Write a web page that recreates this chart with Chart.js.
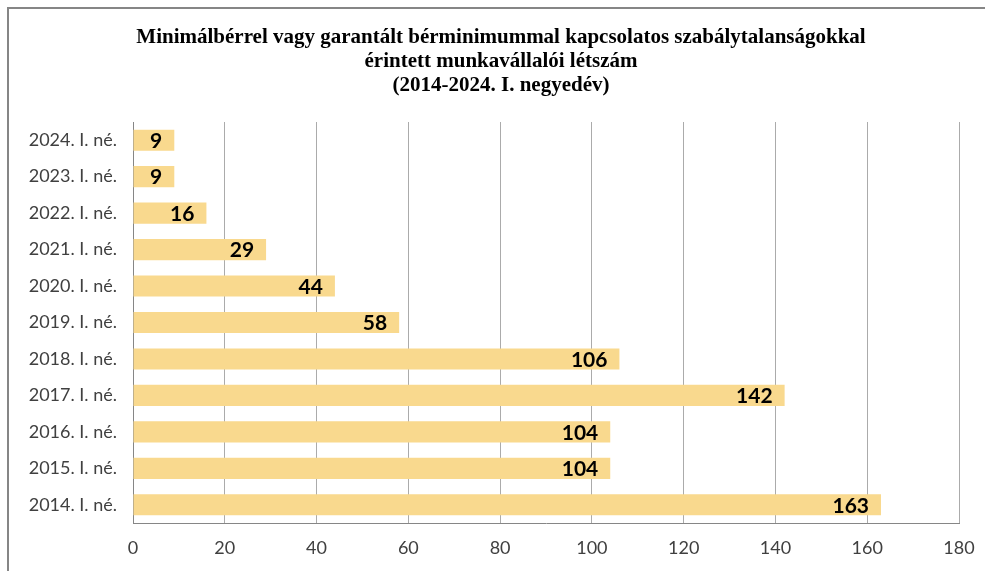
<!DOCTYPE html>
<html>
<head>
<meta charset="utf-8">
<script src="https://cdn.jsdelivr.net/npm/chart.js@4.4.0/dist/chart.umd.min.js"></script>
<style>
  html, body { margin: 0; padding: 0; background: #fff; }
  #wrap { position: relative; width: 985px; height: 571px; }
  #frame { position: absolute; left: 7px; top: 7px; right: 0; bottom: 0;
           border-top: 2px solid #868686; border-left: 2px solid #868686; }
  canvas { position: absolute; left: 0; top: 0; }
</style>
</head>
<body>
<div id="wrap">
  <div id="frame"></div>
  <canvas id="chart" width="985" height="571"></canvas>
</div>
<script>
// categories, top to bottom
const labels = ["2024. I. né.", "2023. I. né.", "2022. I. né.", "2021. I. né.", "2020. I. né.",
  "2019. I. né.", "2018. I. né.", "2017. I. né.", "2016. I. né.", "2015. I. né.", "2014. I. né."];
const values = [9, 9, 16, 29, 44, 58, 106, 142, 104, 104, 163];
const titleLines = [
  "Minimálbérrel vagy garantált bérminimummal kapcsolatos szabálytalanságokkal",
  "érintett munkavállalói létszám",
  "(2014-2024. I. negyedév)"
];

// title, centred a bit right of the canvas middle like the original
const chartTitle = {
  id: "chartTitle",
  afterDraw(chart) {
    const ctx = chart.ctx;
    ctx.save();
    ctx.font = "bold 21px 'Liberation Serif'";
    ctx.fillStyle = "#000";
    ctx.textAlign = "center";
    ctx.textBaseline = "middle";
    titleLines.forEach((t, i) => ctx.fillText(t, 501, 38 + i * 24));
    ctx.restore();
  }
};

// value labels drawn at the end of each bar
const valueLabels = {
  id: "valueLabels",
  afterDatasetsDraw(chart) {
    const ctx = chart.ctx;
    const meta = chart.getDatasetMeta(0);
    ctx.save();
    ctx.font = "bold 21px Lato";
    ctx.fillStyle = "#000";
    ctx.textAlign = "right";
    ctx.textBaseline = "middle";
    meta.data.forEach((bar, i) => {
      ctx.fillText(values[i], bar.x - 12, bar.y + 1);
    });
    ctx.restore();
  }
};

new Chart(document.getElementById("chart"), {
  type: "bar",
  data: {
    labels,
    datasets: [{
      data: values,
      backgroundColor: "#F9D98E",
      barPercentage: 0.58,
      categoryPercentage: 1
    }]
  },
  options: {
    indexAxis: "y",
    responsive: false,
    animation: false,
    layout: { padding: { left: 0, right: 26, top: 122, bottom: 0 } },
    plugins: {
      legend: { display: false },
      tooltip: { enabled: false },
      title: { display: false }
    },
    scales: {
      x: {
        min: 0, max: 180,
        ticks: { stepSize: 20, color: "#404040", font: { family: "Lato", size: 18 }, padding: 14 },
        grid: { color: "#ababab", drawTicks: false },
        border: { color: "#868686" },
        afterFit: (s) => { s.height = 48; s.paddingRight = 0; s.paddingLeft = 0; }
      },
      y: {
        ticks: { color: "#404040", font: { family: "Lato", size: 18 }, padding: 16 },
        grid: { display: false, drawTicks: false },
        border: { color: "#868686" },
        afterFit: (s) => { s.width = 133; }
      }
    }
  },
  plugins: [valueLabels, chartTitle]
});
</script>
</body>
</html>
